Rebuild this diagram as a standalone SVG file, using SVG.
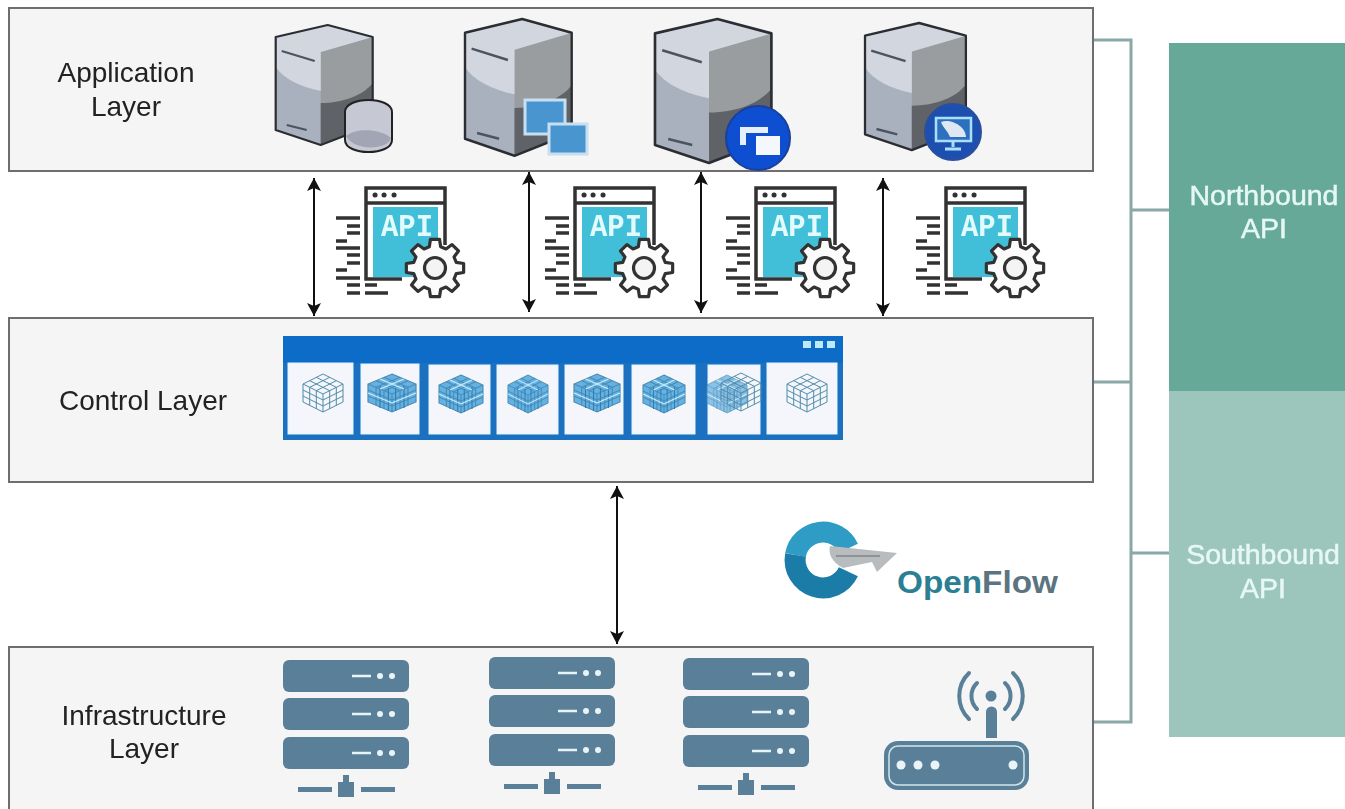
<svg xmlns="http://www.w3.org/2000/svg" xmlns:xlink="http://www.w3.org/1999/xlink" width="1345" height="809" viewBox="0 0 1345 809">
<style>
.layer{fill:#f5f5f5;stroke:#6e6e6e;stroke-width:2}
.lbl{font-family:"Liberation Sans",Arial,sans-serif;font-size:28px;fill:#222;text-anchor:middle;filter:url(#softer)}
.api{font-family:"Liberation Sans",Arial,sans-serif;font-size:28.500px;fill:#e6f8f3;text-anchor:middle;stroke:#e6f8f3;stroke-width:.5;filter:url(#softer)}
.apiword{font-family:"Liberation Mono",monospace;font-weight:700;font-size:31px;fill:#e2fbff;text-anchor:middle;filter:url(#softer)}
.arrow{fill:none;stroke:#111;stroke-width:2;marker-start:url(#tip);marker-end:url(#tip)}
.bus{fill:none;stroke:#8aa8a5;stroke-width:3}
.ln{fill:none;stroke:#333;stroke-width:3.5}
.rack{fill:#5a8099}
.lit{fill:#e8f4f7}
.cell{fill:#f4f6fb;stroke:#dff6fd;stroke-width:1}
.soft{filter:url(#soft)}
</style>
<defs>
<filter id="soft" x="-30%" y="-30%" width="160%" height="160%"><feGaussianBlur stdDeviation="0.6"/></filter>
<filter id="softer" x="-10%" y="-30%" width="120%" height="160%"><feGaussianBlur stdDeviation="0.35"/></filter>
<marker id="tip" markerUnits="userSpaceOnUse" markerWidth="14" markerHeight="16" refX="13" refY="7" orient="auto-start-reverse"><path d="M0,0L13,7L0,14L3,7Z" fill="#111"/></marker>
<g id="server">
<path d="M52,0L97,12V100L45,120L0,105V12Z" fill="#a9b1bf"/>
<path d="M45,27L97,12V100L45,120Z" fill="#9a9d9f"/>
<path d="M0,12L52,0L97,12L45,27V66C25,62 8,54 0,42Z" fill="#d2d6df"/>
<path d="M45,78C68,78 88,70 97,58V100L45,120Z" fill="#5f6468"/>
<path d="M52,0L97,12V100L45,120L0,105V12Z" fill="none" stroke="#2b2e33" stroke-width="2.2" stroke-linejoin="round"/>
<path d="M6,26L39,36M11,100L31,105" fill="none" stroke="#4c5560" stroke-width="2.2"/>
</g>
<g id="apiicon">
<rect x="373" y="207" width="65" height="70" fill="#43bfd8"/>
<path class="ln" d="M402,279H366V188H445V245M366,203H445"/>
<path d="M375,195h.1M384,195h.1M394,195h.1" stroke="#333" stroke-width="5" stroke-linecap="round"/>
<path class="ln" d="M336,218H360M347,226H360M347,233H360M336,241H347M336,248H360M347,255H360M347,263H360M336,270H347M336,278H360M347,285H360M365,285H377M347,293H360M365,293H388"/>
<g transform="translate(435,268)">
<path d="M21.25,-5.69L28.64,-4.54L28.64,4.54L21.25,5.69L19.05,11L23.46,17.05L17.05,23.46L11,19.05L5.69,21.25L4.54,28.64L-4.54,28.64L-5.69,21.25L-11,19.05L-17.05,23.46L-23.46,17.05L-19.05,11L-21.25,5.69L-28.64,4.54L-28.64,-4.54L-21.25,-5.69L-19.05,-11L-23.46,-17.05L-17.05,-23.46L-11,-19.05L-5.69,-21.25L-4.54,-28.64L4.54,-28.64L5.69,-21.25L11,-19.05L17.05,-23.46L23.46,-17.05L19.05,-11Z" fill="#fbfbfb" stroke="#333" stroke-width="3.2" stroke-linejoin="round"/>
<circle r="10.5" fill="#f4f4f4" stroke="#333" stroke-width="3.2"/>
</g>
</g>
<g id="cube" fill="none" stroke="#4f8ca8" stroke-width="1">
<path d="M0,-19L20,-9V9L0,19L-20,9V-9ZM-20,-9L0,1L20,-9M0,1V19"/>
<path d="M-13.3,-5.7V12.3M-6.7,-2.3V15.7M-20,-3L0,7M-20,3L0,13M13.3,-5.7V12.3M6.7,-2.3V15.7M20,-3L0,7M20,3L0,13M-6.7,-15.7L13.3,-5.7M-13.3,-12.3L6.7,-2.3M6.7,-15.7L-13.3,-5.7M13.3,-12.3L-6.7,-2.3"/>
</g>
<g id="cubedense">
<path d="M0,-19L20,-9V9L0,19L-20,9V-9Z" fill="#62b2ea"/>
<use xlink:href="#cube"/>
<path d="M-10,-7V15M-3,-5V18M3,-5V18M10,-7V15" fill="none" stroke="#2d7fb8" stroke-width="1"/>
<path d="M-20,0L0,10L20,0M-10,-14L10,-4M10,-14L-10,-4" fill="none" stroke="#c9ecfb" stroke-width="1"/>
</g>
<g id="rackstack">
<rect class="rack" x="283" y="660" width="126" height="32" rx="6"/>
<rect class="rack" x="283" y="698" width="126" height="32" rx="6"/>
<rect class="rack" x="283" y="737" width="126" height="32" rx="6"/>
<path d="M352,676H371M352,714H371M352,753H371" stroke="#e8f4f7" stroke-width="2.5"/>
<circle class="lit" cx="380" cy="676" r="3"/><circle class="lit" cx="392" cy="676" r="3"/>
<circle class="lit" cx="380" cy="714" r="3"/><circle class="lit" cx="392" cy="714" r="3"/>
<circle class="lit" cx="380" cy="753" r="3"/><circle class="lit" cx="392" cy="753" r="3"/>
<rect class="rack" x="298" y="787" width="34" height="5"/>
<rect class="rack" x="361" y="787" width="34" height="5"/>
<rect class="rack" x="338" y="782" width="16" height="15"/>
<rect class="rack" x="343" y="775" width="6" height="8"/>
</g>
</defs>
<rect width="1345" height="809" fill="#fff"/>

<g id="connectors">
<path class="bus" d="M1093,40H1131V722H1093M1093,382H1131M1131,210H1169M1131,553H1169"/>
<path class="arrow" d="M314,178V316"/>
<path class="arrow" d="M529,172V312"/>
<path class="arrow" d="M701,172V313"/>
<path class="arrow" d="M883,178V316"/>
<path class="arrow" d="M617,486V644"/>
</g>

<g id="application-layer">
<rect class="layer" x="9" y="8" width="1084" height="163"/>
<text class="lbl" x="126" y="82">Application</text>
<text class="lbl" x="126" y="116">Layer</text>
<g class="soft">
<use xlink:href="#server" transform="translate(275.7,25)"/>
<path d="M345,112C345,96 392,96 392,112V140C392,156 345,156 345,140Z" fill="#c6c8d4" stroke="#222" stroke-width="2"/>
<path d="M346,136C355,128 380,128 391,138C388,150 355,152 346,136Z" fill="#a2a5b4"/>
<use xlink:href="#server" transform="translate(465,19) scale(1.1,1.14)"/>
<rect x="525" y="100" width="40" height="34" fill="#4a95d0" stroke="#c7dff0" stroke-width="3"/>
<rect x="549" y="124" width="38" height="30" fill="#4a95d0" stroke="#c7dff0" stroke-width="3"/>
<use xlink:href="#server" transform="translate(655,19) scale(1.2,1.2)"/>
<circle cx="758" cy="138" r="32" fill="#0d4fd0" stroke="#1a3f9c" stroke-width="2"/>
<path d="M740,127H768V133H746V145H740Z" fill="#e6effa"/>
<rect x="756" y="136" width="24" height="19" fill="#f4f7fb"/>
<use xlink:href="#server" transform="translate(865,23) scale(1.04,1.06)"/>
<circle cx="953" cy="132" r="28" fill="#1e50b0" stroke="#2a4f9c" stroke-width="2"/>
<rect x="936" y="118" width="35" height="23" fill="#2f6fc0" stroke="#a8e0fa" stroke-width="2.5"/>
<path d="M941,122C950,118 966,126 966,137H950C948,131 943,128 941,122Z" fill="#dfe7f2"/>
<path d="M953,141V147M945,149H961" stroke="#a8e0fa" stroke-width="3"/>
</g>
</g>

<g id="api-1"><use class="soft" xlink:href="#apiicon"/><text class="apiword" x="407" y="236" textLength="52" lengthAdjust="spacingAndGlyphs">API</text></g>
<g id="api-2"><use class="soft" xlink:href="#apiicon" transform="translate(209,0)"/><text class="apiword" x="616" y="236" textLength="52" lengthAdjust="spacingAndGlyphs">API</text></g>
<g id="api-3"><use class="soft" xlink:href="#apiicon" transform="translate(390,0)"/><text class="apiword" x="797" y="236" textLength="52" lengthAdjust="spacingAndGlyphs">API</text></g>
<g id="api-4"><use class="soft" xlink:href="#apiicon" transform="translate(580,0)"/><text class="apiword" x="987" y="236" textLength="52" lengthAdjust="spacingAndGlyphs">API</text></g>

<g id="control-layer">
<rect class="layer" x="9" y="318" width="1084" height="164"/>
<text class="lbl" x="143" y="410">Control Layer</text>
<g class="soft">
<rect x="283" y="336" width="560" height="104" fill="#1a6fc0"/>
<rect x="283" y="336" width="560" height="27" fill="#0b6cc8"/>
<rect x="803" y="341" width="8" height="7" fill="#bdeaf8"/><rect x="815" y="341" width="8" height="7" fill="#bdeaf8"/><rect x="827" y="341" width="8" height="7" fill="#bdeaf8"/>
<rect class="cell" x="288" y="363" width="65" height="71"/>
<rect class="cell" x="361" y="364" width="58" height="70"/>
<rect class="cell" x="429" y="365" width="61" height="69"/>
<rect class="cell" x="497" y="365" width="61" height="69"/>
<rect class="cell" x="565" y="365" width="58" height="69"/>
<rect class="cell" x="632" y="365" width="63" height="69"/>
<rect class="cell" x="708" y="365" width="52" height="69"/>
<rect class="cell" x="767" y="363" width="70" height="71"/>
<use xlink:href="#cube" transform="translate(323,393)"/>
<use xlink:href="#cubedense" transform="translate(392,393) scale(1.2,1)"/>
<use xlink:href="#cubedense" transform="translate(461,394) scale(1.1,1)"/>
<use xlink:href="#cubedense" transform="translate(528,394)"/>
<use xlink:href="#cubedense" transform="translate(597,393) scale(1.15,1)"/>
<use xlink:href="#cubedense" transform="translate(664,394) scale(1.05,1)"/>
<use xlink:href="#cubedense" transform="translate(727,394)" opacity=".75"/>
<use xlink:href="#cube" transform="translate(741,392)"/>
<use xlink:href="#cube" transform="translate(807,393)"/>
</g>
</g>

<g id="openflow">
<g class="soft">
<path d="M795.500,555A28,28 0 0 1 848.400,548.200" fill="none" stroke="#2f9cc5" stroke-width="21"/>
<path d="M848.400,571.800A28,28 0 0 1 795.500,555" fill="none" stroke="#1b7ca8" stroke-width="21"/>
<path d="M830,546L897,553L877,572L872,562L843,568C832,562 828,554 830,546Z" fill="#b9bcbe"/>
<path d="M836,556L880,556" stroke="#8e9496" stroke-width="2"/>
</g>
<text x="897" y="593" font-family="'Liberation Sans',Arial,sans-serif" font-weight="700" font-size="31" textLength="161" lengthAdjust="spacingAndGlyphs"><tspan fill="#2c7f93">Open</tspan><tspan fill="#5c7480">Flow</tspan></text>
</g>

<g id="infrastructure-layer">
<rect class="layer" x="9" y="647" width="1084" height="170"/>
<text class="lbl" x="144" y="725">Infrastructure</text>
<text class="lbl" x="144" y="758">Layer</text>
<g class="soft">
<use xlink:href="#rackstack"/>
<use xlink:href="#rackstack" transform="translate(206,-3)"/>
<use xlink:href="#rackstack" transform="translate(400,-2)"/>
<rect x="884" y="741" width="145" height="49" rx="14" fill="#5a8099"/>
<rect x="889" y="746" width="135" height="39" rx="9" fill="none" stroke="#cfe6ec" stroke-width="1.5"/>
<circle class="lit" cx="901" cy="765" r="4.5"/><circle class="lit" cx="918" cy="765" r="4.5"/><circle class="lit" cx="935" cy="765" r="4.5"/><circle class="lit" cx="1013" cy="765" r="4.5"/>
<path d="M986,738V712A5.500,5.500 0 0 1 997,712V738Z" fill="#5a8099"/>
<circle cx="991" cy="696" r="5.500" fill="#5a8099"/>
<path d="M977,683A18,18 0 0 0 977,709M1005,683A18,18 0 0 1 1005,709M969,673A32,32 0 0 0 969,719M1013,673A32,32 0 0 1 1013,719" fill="none" stroke="#5a8099" stroke-width="4" stroke-linecap="round"/>
</g>
</g>

<g id="northbound-api">
<rect x="1169" y="43" width="176" height="348" fill="#67a999"/>
<text class="api" x="1264" y="205">Northbound</text>
<text class="api" x="1264" y="238">API</text>
</g>
<g id="southbound-api">
<rect x="1169" y="391" width="176" height="346" fill="#9cc5bb"/>
<text class="api" x="1263" y="564">Southbound</text>
<text class="api" x="1263" y="598">API</text>
</g>
</svg>
